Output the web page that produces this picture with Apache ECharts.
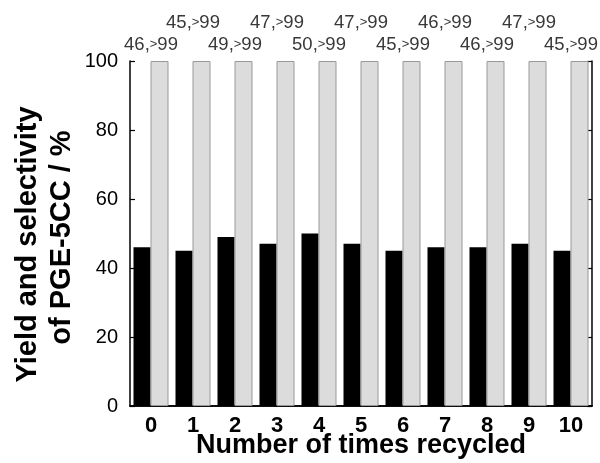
<!DOCTYPE html>
<html>
<head>
<meta charset="utf-8">
<script src="https://cdn.jsdelivr.net/npm/echarts@6/dist/echarts.min.js"></script>
<style>html,body{margin:0;padding:0;background:#fff}#c{width:600px;height:463px}</style>
</head>
<body>
<div id="c"></div>
<script>
var categories = ['0','1','2','3','4','5','6','7','8','9','10'];
var yieldValues = [46, 45, 49, 47, 50, 47, 45, 46, 46, 47, 45];
var selectivityValues = [100, 100, 100, 100, 100, 100, 100, 100, 100, 100, 100];
var selectivityText = ['>99','>99','>99','>99','>99','>99','>99','>99','>99','>99','>99'];
var yTicks = [0, 20, 40, 60, 80, 100];

var FONT = '"Liberation Sans", Arial, sans-serif';
var chart = echarts.init(document.getElementById('c'));
chart.setOption({
  animation: false,
  backgroundColor: '#fff',
  grid: {left: 130, right: 8, top: 61, bottom: 57, outerBoundsMode: 'none', containLabel: false},
  xAxis: [{
    type: 'category', data: categories, position: 'bottom',
    axisLine: {lineStyle: {color: '#000', width: 1.5}},
    axisTick: {show: false},
    axisLabel: {fontFamily: FONT, fontSize: 22, fontWeight: 'bold', color: '#000', margin: 9},
    name: 'Number of times recycled', nameLocation: 'middle', nameGap: 26, nameMoveOverlap: false,
    nameTextStyle: {fontFamily: FONT, fontSize: 27, fontWeight: 'bold', color: '#000'}
  }, {
    type: 'category', data: categories, position: 'top',
    axisLine: {show: true, lineStyle: {color: '#000', width: 1.5}},
    axisTick: {show: false},
    axisLabel: {
      margin: 7, interval: 0,
      formatter: function (v, i) {
        var k = i % 2 === 0 ? 'n' : 'u';
        var g = i % 2 === 0 ? 'g' : 'gu';
        return '{' + k + '|' + yieldValues[i] + ',}{' + g + '|' + selectivityText[i].charAt(0) + '}{' + k + '|' + selectivityText[i].slice(1) + '}';
      },
      rich: {
        n: {fontFamily: FONT, fontSize: 18.5, color: '#383838'},
        g: {fontFamily: FONT, fontSize: 13, color: '#383838'},
        u: {fontFamily: FONT, fontSize: 18.5, color: '#383838', padding: [0, 0, 22, 0]},
        gu: {fontFamily: FONT, fontSize: 13, color: '#383838', padding: [0, 0, 22, 0]}
      }
    }
  }],
  yAxis: [{
    type: 'value', min: 0, max: 100, interval: 20, position: 'left',
    splitLine: {show: false},
    axisLine: {show: true, lineStyle: {color: '#000', width: 1.5}},
    axisTick: {show: true, inside: true, length: 5, lineStyle: {color: '#000', width: 1.2}},
    axisLabel: {fontFamily: FONT, fontSize: 20, color: '#000', margin: 12,
      formatter: function (v) { return yTicks.indexOf(v) >= 0 ? String(v) : ''; }},
    name: '{a|Yield and selectivity}\n{b|of PGE-5CC / %}', nameLocation: 'middle', nameGap: 51, nameRotate: 90,
    nameMoveOverlap: false,
    nameTextStyle: {
      rich: {
        a: {fontFamily: FONT, fontSize: 29, fontWeight: 'bold', color: '#000', lineHeight: 34, padding: [0, 22, 0, 0]},
        b: {fontFamily: FONT, fontSize: 29, fontWeight: 'bold', color: '#000', lineHeight: 34, padding: [0, 8, 0, 0]}
      }
    }
  }, {
    type: 'value', min: 0, max: 100, interval: 20, position: 'right',
    splitLine: {show: false},
    axisLine: {show: true, lineStyle: {color: '#000', width: 1.5}},
    axisTick: {show: true, inside: true, length: 5, lineStyle: {color: '#000', width: 1.2}},
    axisLabel: {show: false}
  }],
  series: [{
    name: 'Yield', type: 'bar', data: yieldValues, barWidth: 17, barGap: '0%',
    itemStyle: {color: '#000'}
  }, {
    name: 'Selectivity', type: 'bar', data: selectivityValues, barWidth: 18, barGap: '0%',
    itemStyle: {color: '#dcdcdc', borderColor: '#999', borderWidth: 1}
  }]
});
</script>
</body>
</html>
